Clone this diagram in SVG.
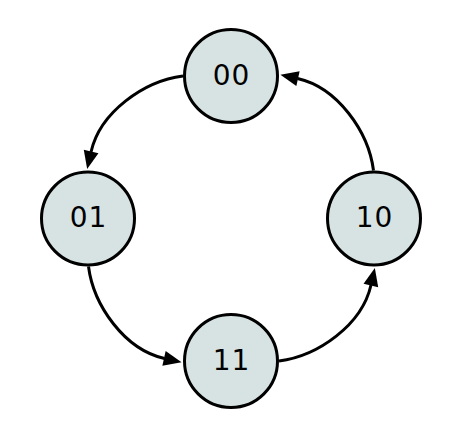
<svg xmlns="http://www.w3.org/2000/svg" width="458" height="441" viewBox="0 0 458 441">
<style>
.node circle { fill: #d7e3e3; stroke: #000; stroke-width: 3; }
.node text { font-family: "DejaVu Sans", sans-serif; font-size: 28px; text-anchor: middle; fill: #000; letter-spacing: 1px; }
.edge { fill: none; stroke: #000; stroke-width: 3; marker-end: url(#arr); }
</style>
<defs>
<marker id="arr" markerWidth="19" markerHeight="15" refX="0.5" refY="7.5" orient="auto" markerUnits="userSpaceOnUse" overflow="visible">
<path d="M0,0 L18,7.5 L0,15 z" fill="#000"/>
</marker>
</defs>
<rect width="458" height="441" fill="#fff"/>
<g id="connectors">
<path class="edge" d="M183,76 C144,81 100,112 91,152"/>
<path class="edge" d="M88.5,266.5 C93.5,305.5 124.5,349.5 164.5,358.5"/>
<path class="edge" d="M279,361 C318,356 362,325 371,285"/>
<path class="edge" d="M373.5,170.5 C368.5,131.5 337.5,87.5 297.5,78.5"/>
</g>
<g id="n00" class="node"><circle cx="231" cy="76" r="46.5"/><text x="231.5" y="84.5">00</text></g>
<g id="n01" class="node"><circle cx="88" cy="218.5" r="46.5"/><text x="88.5" y="227">01</text></g>
<g id="n11" class="node"><circle cx="231" cy="361" r="46.5"/><text x="231.5" y="369.5">11</text></g>
<g id="n10" class="node"><circle cx="374" cy="218.5" r="46.5"/><text x="374.5" y="227">10</text></g>
</svg>
